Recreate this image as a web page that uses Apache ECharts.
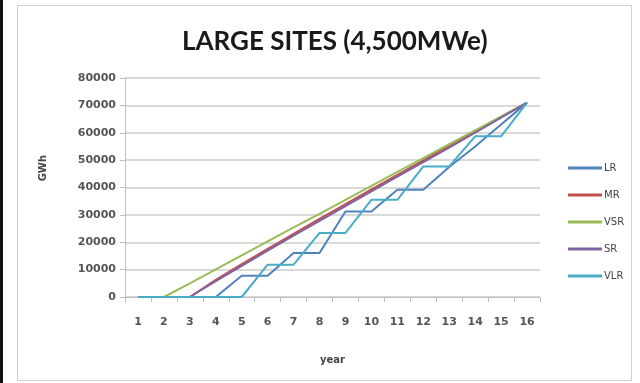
<!DOCTYPE html>
<html>
<head>
<meta charset="utf-8">
<script src="https://cdn.jsdelivr.net/npm/echarts@6/dist/echarts.min.js"></script>
<style>
html,body{margin:0;padding:0;background:#fff;}
#c{width:640px;height:383px;}
</style>
</head>
<body>
<div id="c"></div>
<script>
var years = ['1','2','3','4','5','6','7','8','9','10','11','12','13','14','15','16'];
var seriesNames = ['LR','MR','VSR','SR','VLR'];
var LR  = [0,0,0,0,7800,7800,16100,16100,31200,31200,39200,39200,47500,55000,63000,71000];
var MR  = [0,0,0,6300,12000,17600,23100,28500,33900,39300,44600,49900,55200,60500,65800,71000];
var VSR = [0,0,5000,10100,15200,20300,25400,30400,35500,40600,45700,50700,55800,60900,66000,71000];
var SR  = [0,0,0,5800,11400,16900,22400,27800,33200,38600,44000,49300,54600,60000,65500,71000];
var VLR = [0,0,0,0,0,11800,11800,23400,23400,35500,35500,47700,47700,58700,58700,71000];
var colors = ['#4F81BD','#C0504D','#9BBB59','#8064A2','#4BACC6'];
var dataSets = [LR, MR, VSR, SR, VLR];

var chart = echarts.init(document.getElementById('c'), null, {renderer:'canvas'});
var series = seriesNames.map(function(n,i){
  return {
    name:n, type:'line', data:dataSets[i], symbol:'none', smooth:false,
    lineStyle:{width:2, color:colors[i]}, itemStyle:{color:colors[i]},
    emphasis:{disabled:true}, animation:false
  };
});
chart.setOption({
  animation:false,
  backgroundColor:'#fff',
  title:{
    text:'LARGE SITES (4,500MWe)', left:177, top:24,
    textStyle:{fontFamily:'Lato', fontWeight:'bold', fontSize:26, color:'#1a1a1a'}
  },
  legend:{
    orient:'vertical', left:563, top:158, itemGap:17, itemWidth:34, itemHeight:3,
    icon:'rect', data:seriesNames,
    textStyle:{fontFamily:'DejaVu Sans', fontSize:10, color:'#444', padding:[0,0,0,-3]}
  },
  grid:{left:125, right:100, top:78, bottom:86, containLabel:false},
  xAxis:{
    type:'category', data:years, boundaryGap:true,
    axisLine:{lineStyle:{color:'#BFBFBF', width:1}},
    axisTick:{show:true, alignWithLabel:false, length:5, lineStyle:{color:'#BFBFBF'}},
    axisLabel:{fontFamily:'DejaVu Sans', fontWeight:'bold', fontSize:11, color:'#555', margin:20},
    name:'year', nameLocation:'middle', nameGap:58,
    nameTextStyle:{fontFamily:'DejaVu Sans', fontWeight:'bold', fontSize:10, color:'#444'}
  },
  yAxis:{
    type:'value', min:0, max:80000, interval:10000,
    axisLine:{show:true, lineStyle:{color:'#BFBFBF'}},
    axisTick:{show:true, length:5, lineStyle:{color:'#BFBFBF'}},
    splitLine:{lineStyle:{color:'#D9D9D9', width:2}},
    axisLabel:{fontFamily:'DejaVu Sans', fontWeight:'bold', fontSize:11, color:'#555', margin:9,
      formatter:function(v){return String(v);}}
  },
  graphic:[
    {type:'rect', shape:{x:17.5,y:5.5,width:614,height:375}, style:{fill:'none', stroke:'#D0D0D0', lineWidth:1}, silent:true, z:-10},
    {type:'rect', shape:{x:0,y:0,width:3,height:383}, style:{fill:'#111'}, silent:true},
    {type:'text', left:38, top:155, rotation:Math.PI/2,
      style:{text:'GWh', font:'bold 10px "DejaVu Sans"', fill:'#444'}}
  ],
  series:series
});
</script>
</body>
</html>
